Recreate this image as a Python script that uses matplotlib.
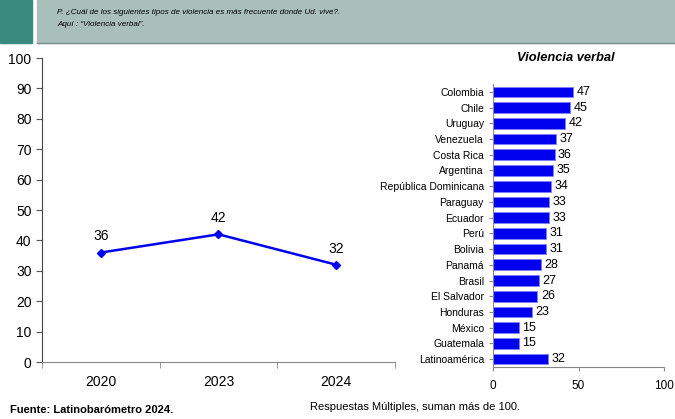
import matplotlib.pyplot as plt
from matplotlib.patches import Rectangle

years = ["2020", "2023", "2024"]
trend = [36, 42, 32]

countries = ["Colombia", "Chile", "Uruguay", "Venezuela", "Costa Rica", "Argentina",
             "República Dominicana", "Paraguay", "Ecuador", "Perú", "Bolivia", "Panamá",
             "Brasil", "El Salvador", "Honduras", "México", "Guatemala", "Latinoamérica"]
values = [47, 45, 42, 37, 36, 35, 34, 33, 33, 31, 31, 28, 27, 26, 23, 15, 15, 32]

W, H = 675, 419
fig = plt.figure(figsize=(W / 100, H / 100), dpi=100)
plt.rcParams['font.family'] = ['Liberation Sans', 'DejaVu Sans']


def box(x0, y0, x1, y1):
    # pixel coords (top-left origin) -> figure fraction
    return [x0 / W, 1 - y1 / H, (x1 - x0) / W, (y1 - y0) / H]


# header band
fig.patches.append(Rectangle((0, 1 - 43 / H), 32 / W, 43 / H, transform=fig.transFigure,
                             color="#3a8a80", zorder=0))
fig.patches.append(Rectangle((37 / W, 1 - 43 / H), 1 - 37 / W, 43 / H, transform=fig.transFigure,
                             color="#a9bfb9", zorder=0))
fig.lines.append(plt.Line2D([37 / W, 1], [1 - 43.5 / H, 1 - 43.5 / H], transform=fig.transFigure,
                            color="#7f8f8a", lw=1))
fig.text(57 / W, 1 - 12 / H, "P. ¿Cuál de los siguientes tipos de violencia es más frecuente donde Ud. vive?.",
         fontsize=5.8, style="italic", va="center")
fig.text(57 / W, 1 - 25 / H, "Aquí : \u201cViolencia verbal\u201d.", fontsize=5.8, style="italic", va="center")

# line chart
ax1 = fig.add_axes(box(42, 58, 395, 362))
x = range(len(years))
ax1.plot(x, trend, color="#0000ee", lw=1.8, marker="D", markersize=4.5)
for xi, v in zip(x, trend):
    ax1.text(xi, v + 3, str(v), ha="center", va="bottom", fontsize=10)
ax1.set_xlim(-0.5, 2.5)
ax1.set_ylim(0, 100)
ax1.set_yticks(range(0, 101, 10))
ax1.set_xticks(list(x))
ax1.set_xticklabels(years)
ax1.set_xticks([-0.5, 0.5, 1.5, 2.5], minor=True)
ax1.tick_params(axis="x", which="major", length=0, pad=9, labelsize=10)
ax1.tick_params(axis="x", which="minor", length=4, direction="out", color="#888888")
ax1.tick_params(axis="y", labelsize=10, length=4, color="#555555")
for s in ["top", "right"]:
    ax1.spines[s].set_visible(False)
ax1.spines["left"].set_color("#444444")
ax1.spines["bottom"].set_color("#888888")
ax1.patch.set_alpha(0)

# bar chart
ax2 = fig.add_axes(box(493, 84, 664, 367))
pos = range(len(countries))
ax2.barh(pos, values, height=0.68, color="#0000ee", edgecolor="#8080ff", lw=0.6)
for p, v in zip(pos, values):
    ax2.text(v + 2, p, str(v), va="center", ha="left", fontsize=9)
ax2.set_ylim(len(countries) - 0.5, -0.5)
ax2.set_xlim(0, 100)
ax2.set_xticks([0, 50, 100])
ax2.set_yticks(list(pos))
ax2.set_yticklabels(countries)
ax2.tick_params(axis="y", labelsize=7.5, length=3, color="#888888")
ax2.tick_params(axis="x", labelsize=8.5, length=3, color="#888888", pad=6)
for s in ["top", "right"]:
    ax2.spines[s].set_visible(False)
ax2.spines["left"].set_color("#888888")
ax2.spines["bottom"].set_color("#888888")
ax2.patch.set_alpha(0)
fig.text(566 / W, 1 - 58 / H, "Violencia verbal", fontsize=9.3, weight="bold", style="italic",
         ha="center", va="center")

fig.text(10 / W, 1 - 410 / H, "Fuente: Latinobarómetro 2024.", fontsize=8, weight="bold", va="center")
fig.text(310 / W, 1 - 407 / H, "Respuestas Múltiples, suman más de 100.", fontsize=8, va="center")

fig.savefig("out.png", dpi=100)
